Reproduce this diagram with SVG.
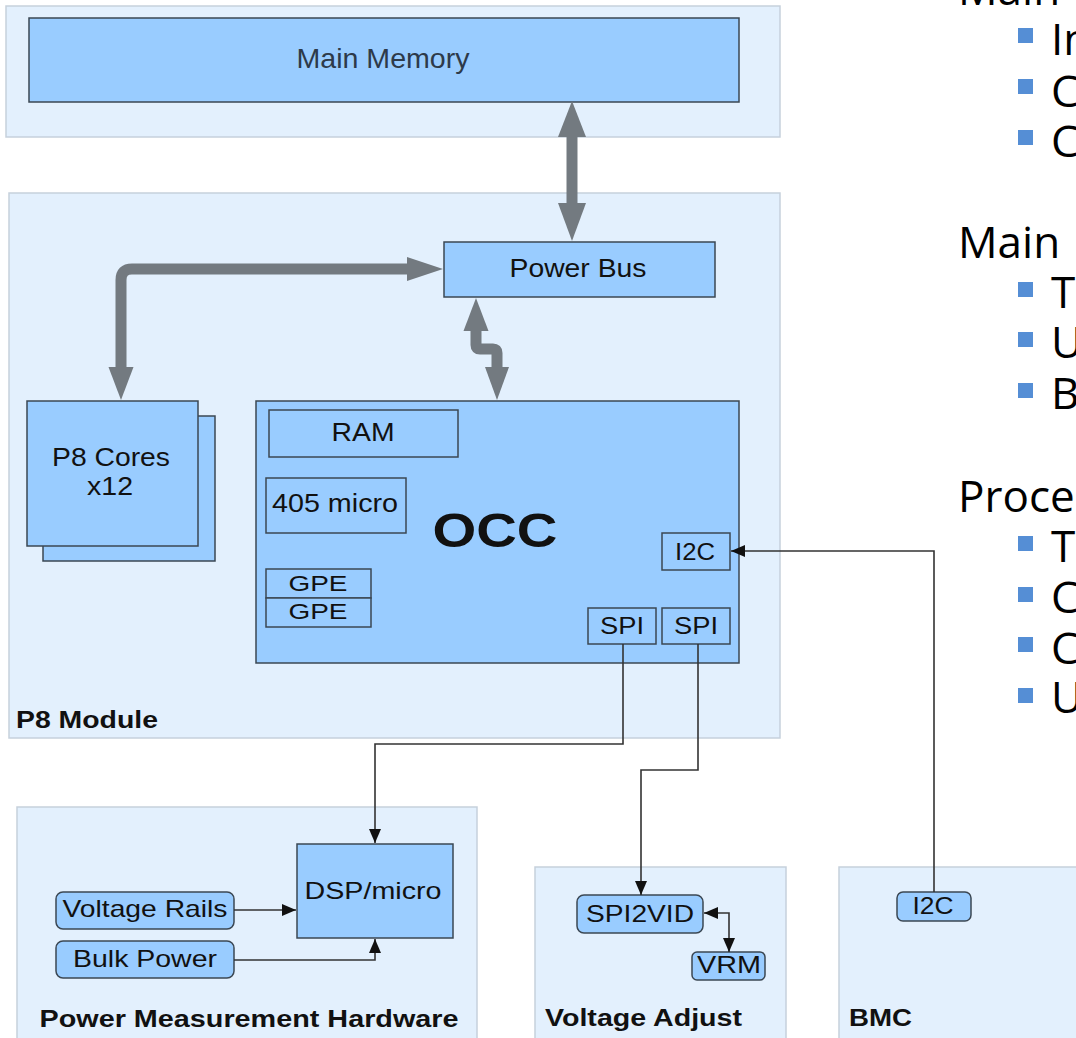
<svg xmlns="http://www.w3.org/2000/svg" width="1076" height="1038" viewBox="0 0 1076 1038">
<defs>
<style>
.cont{fill:#e3f0fd;stroke:#c6d1dc;stroke-width:1.5}
.box{fill:#99ccff;stroke:#3b4753;stroke-width:1.5}
.t{font-family:"Liberation Sans",Arial,sans-serif;font-size:24px;fill:#111;text-anchor:middle}
.b{font-family:"Liberation Sans",Arial,sans-serif;font-size:23px;font-weight:bold;fill:#111}
.thick{fill:none;stroke:#737a80;stroke-width:11}
.head{fill:#737a80}
.thin{fill:none;stroke:#333;stroke-width:1.6}
.r{font-family:"Open Sans","Noto Sans",sans-serif;font-size:44px;fill:#000}
.bul{fill:#558ed5}
</style>
<marker id="ah" viewBox="0 0 14 12" refX="14" refY="6" markerWidth="14" markerHeight="12" markerUnits="userSpaceOnUse" orient="auto-start-reverse">
<path d="M0,0 L14,6 L0,12 z" fill="#111"/>
</marker>
</defs>

<g id="memory-area">
<rect class="cont" x="6" y="6" width="774" height="131"/>
</g>
<g id="main-memory">
<rect class="box" x="29" y="18" width="710" height="84"/>
<text class="t" x="383" y="68" font-size="28" textLength="173" lengthAdjust="spacingAndGlyphs" style="fill:#2d3a4a;font-size:28px">Main Memory</text>
</g>

<g id="p8-module">
<rect class="cont" x="9" y="193" width="771" height="545"/>
<text class="b" x="16" y="728" textLength="142" lengthAdjust="spacingAndGlyphs" style="font-size:24px">P8 Module</text>
</g>

<g id="power-bus">
<rect class="box" x="444" y="242" width="271" height="55"/>
<text class="t" x="578" y="277" textLength="137" lengthAdjust="spacingAndGlyphs" style="font-size:25px">Power Bus</text>
</g>

<g id="p8-cores">
<rect class="box" x="43" y="416" width="172" height="145"/>
<rect class="box" x="27" y="401" width="171" height="145"/>
<text class="t" x="111" y="466" textLength="118" lengthAdjust="spacingAndGlyphs" style="font-size:25px">P8 Cores</text>
<text class="t" x="110" y="495" textLength="46" lengthAdjust="spacingAndGlyphs" style="font-size:25px">x12</text>
</g>

<g id="occ">
<rect class="box" x="256" y="401" width="483" height="262"/>
<text class="b" x="495" y="547" text-anchor="middle" textLength="125" lengthAdjust="spacingAndGlyphs" style="font-size:48px;text-anchor:middle">OCC</text>
</g>
<g id="ram">
<rect class="box" x="269" y="410" width="189" height="47"/>
<text class="t" x="363" y="441" textLength="63" lengthAdjust="spacingAndGlyphs" style="font-size:25px">RAM</text>
</g>
<g id="micro405">
<rect class="box" x="266" y="478" width="140" height="55"/>
<text class="t" x="335" y="512" textLength="126" lengthAdjust="spacingAndGlyphs" style="font-size:25px">405 micro</text>
</g>
<g id="gpe1">
<rect class="box" x="266" y="569" width="105" height="29"/>
<text class="t" x="318" y="591" textLength="59" lengthAdjust="spacingAndGlyphs" style="font-size:22px">GPE</text>
</g>
<g id="gpe2">
<rect class="box" x="266" y="598" width="105" height="29"/>
<text class="t" x="318" y="619" textLength="59" lengthAdjust="spacingAndGlyphs" style="font-size:22px">GPE</text>
</g>
<g id="occ-i2c">
<rect class="box" x="662" y="533" width="68" height="37"/>
<text class="t" x="695" y="560" textLength="40" lengthAdjust="spacingAndGlyphs">I2C</text>
</g>
<g id="spi1">
<rect class="box" x="588" y="608" width="68" height="36"/>
<text class="t" x="622" y="634" textLength="44" lengthAdjust="spacingAndGlyphs">SPI</text>
</g>
<g id="spi2">
<rect class="box" x="662" y="608" width="68" height="36"/>
<text class="t" x="696" y="634" textLength="44" lengthAdjust="spacingAndGlyphs">SPI</text>
</g>

<g id="power-measurement">
<rect class="cont" x="17" y="807" width="460" height="240"/>
<text class="b" x="249" y="1027" text-anchor="middle" textLength="419" lengthAdjust="spacingAndGlyphs" style="text-anchor:middle">Power Measurement Hardware</text>
</g>
<g id="dsp">
<rect class="box" x="297" y="844" width="156" height="94"/>
<text class="t" x="373" y="899" textLength="137" lengthAdjust="spacingAndGlyphs">DSP/micro</text>
</g>
<g id="voltage-rails">
<rect class="box" x="56" y="892" width="178" height="37" rx="7"/>
<text class="t" x="145" y="917" textLength="165" lengthAdjust="spacingAndGlyphs">Voltage Rails</text>
</g>
<g id="bulk-power">
<rect class="box" x="56" y="941" width="178" height="37" rx="7"/>
<text class="t" x="145" y="967" textLength="144" lengthAdjust="spacingAndGlyphs">Bulk Power</text>
</g>

<g id="voltage-adjust">
<rect class="cont" x="535" y="867" width="251" height="180"/>
<text class="b" x="545" y="1026" textLength="197" lengthAdjust="spacingAndGlyphs">Voltage Adjust</text>
</g>
<g id="spi2vid">
<rect class="box" x="577" y="895" width="126" height="38" rx="7"/>
<text class="t" x="640" y="922" textLength="108" lengthAdjust="spacingAndGlyphs">SPI2VID</text>
</g>
<g id="vrm">
<rect class="box" x="692" y="952" width="73" height="28" rx="5"/>
<text class="t" x="729" y="973" textLength="64" lengthAdjust="spacingAndGlyphs">VRM</text>
</g>

<g id="bmc">
<rect class="cont" x="839" y="867" width="250" height="180"/>
<text class="b" x="849" y="1026" textLength="63" lengthAdjust="spacingAndGlyphs">BMC</text>
</g>
<g id="bmc-i2c">
<rect class="box" x="897" y="892" width="74" height="29" rx="6"/>
<text class="t" x="933" y="914" textLength="41" lengthAdjust="spacingAndGlyphs">I2C</text>
</g>

<g id="connectors">
<!-- thick bus arrows -->
<path class="thick" d="M572 136 V203"/>
<polygon class="head" points="572,101 586,137 558,137"/>
<polygon class="head" points="572,241 586,203 558,203"/>
<path class="thick" d="M408 269 H132 Q121 269 121 280 V368"/>
<polygon class="head" points="443,269 407,257 407,281"/>
<polygon class="head" points="121,400 108.5,367 133.5,367"/>
<path class="thick" d="M476 330 V345 Q476 349 480 349 H493 Q497 349 497 353 V368" stroke-linejoin="round"/>
<polygon class="head" points="476,298 463.5,331 488.5,331"/>
<polygon class="head" points="497,400 485,367 509,367"/>
<!-- thin signal lines -->
<path class="thin" d="M623 644 V744 H375 V843" marker-end="url(#ah)"/>
<path class="thin" d="M698 644 V770 H641 V895" marker-end="url(#ah)"/>
<path class="thin" d="M934 892 V551 H731" marker-end="url(#ah)"/>
<path class="thin" d="M234 910 H296" marker-end="url(#ah)"/>
<path class="thin" d="M234 960 H375 V939" marker-end="url(#ah)"/>
<path class="thin" d="M704 913 H729 V952" marker-start="url(#ah)" marker-end="url(#ah)"/>
</g>

<g id="side-text">
<text class="r" x="958" y="5">Main</text>
<rect class="bul" x="1018" y="28" width="15" height="15"/>
<text class="r" x="1051" y="55">In</text>
<rect class="bul" x="1018" y="79" width="15" height="15"/>
<text class="r" x="1051" y="107">C</text>
<rect class="bul" x="1018" y="130" width="15" height="15"/>
<text class="r" x="1051" y="157">C</text>
<text class="r" x="958" y="258">Main</text>
<rect class="bul" x="1018" y="282" width="15" height="15"/>
<text class="r" x="1051" y="308">T</text>
<rect class="bul" x="1018" y="332" width="15" height="15"/>
<text class="r" x="1051" y="358">U</text>
<rect class="bul" x="1018" y="383" width="15" height="15"/>
<text class="r" x="1051" y="409">B</text>
<text class="r" x="958" y="512">Proce</text>
<rect class="bul" x="1018" y="536" width="15" height="15"/>
<text class="r" x="1051" y="562">T</text>
<rect class="bul" x="1018" y="587" width="15" height="15"/>
<text class="r" x="1051" y="613">C</text>
<rect class="bul" x="1018" y="637" width="15" height="15"/>
<text class="r" x="1051" y="664">C</text>
<rect class="bul" x="1018" y="688" width="15" height="15"/>
<text class="r" x="1051" y="713">U</text>
</g>
</svg>
